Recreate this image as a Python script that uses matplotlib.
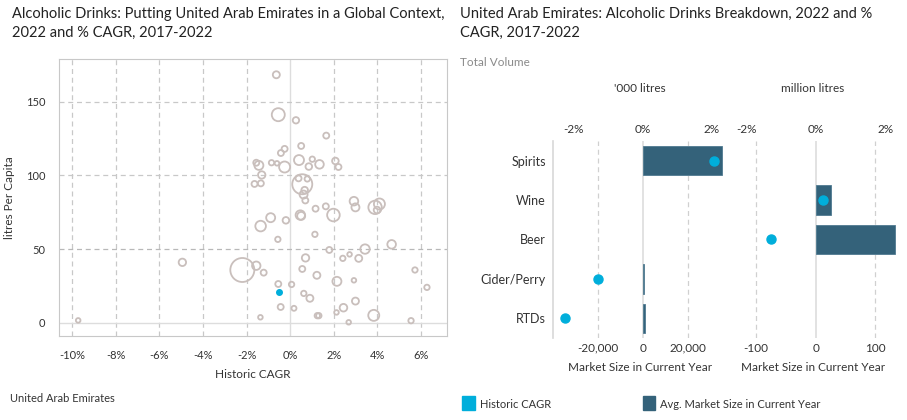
import matplotlib.pyplot as plt
from matplotlib.patches import Rectangle
from matplotlib.ticker import FuncFormatter

plt.rcParams['font.family'] = ['Lato', 'DejaVu Sans']

W, H = 907, 420

# --- global context scatter: historic CAGR (%), litres per capita, bubble radius (px)
cagr = [-0.64, -0.55, 0.26, 1.65, 0.50, -0.26, -0.43, -1.56, -1.44, -0.86,
        -0.61, -0.26, 0.40, 1.01, 0.85, 1.34, 2.07, 2.21, -1.31, -1.64,
        -1.35, 0.38, 0.78, 0.55, 0.66, 0.61, 0.69, 1.16, 1.63, 1.98,
        0.46, 0.50, -0.90, -1.36, -0.20, -0.57, 1.13, 2.92, 2.99, 3.89,
        4.09, 3.98, 4.65, 3.43, 1.79, 2.72, 2.41, 3.14, 0.70, 0.55,
        1.22, -2.20, -1.56, -1.22, 5.72, 6.27, -0.55, 0.06, 2.14, 2.92,
        0.62, 0.90, 2.99, 2.44, -0.44, 0.17, 2.12, 1.24, 1.31, 3.83,
        2.68, -1.37, 5.54, -9.73, -4.95]
per_capita = [168.3, 141.2, 137.4, 127, 120, 118, 115.2, 108.6, 106.8, 108.6,
              108.2, 105.7, 110.4, 111, 106, 107.5, 109.8, 105.7, 100.3, 94.2,
              94.6, 98, 97.6, 94, 90, 87, 83, 77.4, 79, 73.1,
              73.1, 72.5, 71.3, 65.6, 69.5, 56.6, 60, 82.5, 78.3, 78.3,
              80.6, 76.5, 53.2, 50, 49.4, 46.4, 43.7, 43.7, 44, 36.5,
              32.2, 35.8, 38.7, 34, 35.8, 24, 26.3, 26, 28.1, 28.8,
              19.9, 16.6, 14.7, 10.2, 10.7, 9.8, 7, 4.8, 4.8, 5,
              0.3, 3.7, 1.4, 1.6, 41]
bubble = [3.5, 6.5, 3.2, 3, 3, 3, 3, 3, 4.5, 2.7,
          2.3, 5.5, 5, 2.7, 3.3, 4.3, 3.3, 3, 3.7, 3,
          3, 3, 2.7, 10, 3.3, 4, 3, 3, 3, 6.3,
          4.7, 4, 4.5, 5.3, 3.3, 2.7, 2.7, 4.3, 4, 6.7,
          5.5, 3.3, 4.3, 4.7, 3, 2.3, 2.7, 3.5, 3.7, 3,
          3.5, 12, 4.2, 3, 2.7, 2.7, 3, 2.7, 4.5, 2.3,
          2.7, 3.5, 3.5, 3.8, 3, 2.5, 2.3, 2.7, 2.7, 5.5,
          2.3, 2.3, 2.7, 2.3, 3.7]
uae_cagr, uae_per_capita = -0.54, 20.8

# --- breakdown
categories = ['Spirits', 'Wine', 'Beer', 'Cider/Perry', 'RTDs']
hist_cagr = [2.05, 0.22, -1.30, -1.30, -2.26]
size_000 = [35100, None, None, 400, 900]      # '000 litres
size_mln = [None, 26, 132, None, None]        # million litres

grey_txt = '#333333'
grid_c = '#C8C8C8'
bar_c = '#34627A'
dot_c = '#00AEDB'
ring_c = '#C9BFBC'

fig = plt.figure(figsize=(W / 100, H / 100), dpi=100)


def box(l, t, r, b):
    return [l / W, 1 - b / H, (r - l) / W, (b - t) / H]


pct = FuncFormatter(lambda v, p: f'{v:.0f}%')

# ---------------- scatter ----------------
ax = fig.add_axes(box(59, 59, 447, 336))
ax.scatter(cagr, per_capita, s=[(2 * r * 0.72) ** 2 for r in bubble],
           facecolors='none', edgecolors=ring_c, linewidths=1.3, zorder=3)
ax.scatter([uae_cagr], [uae_per_capita], s=16, color=dot_c, zorder=4)
ax.set_xlim(-10.61, 7.19)
ax.set_ylim(-9.0, 179)
ax.set_xticks(range(-10, 7, 2))
ax.set_yticks([0, 50, 100, 150])
ax.xaxis.set_major_formatter(pct)
for v in range(-10, 7, 2):
    if v == 0:
        ax.axvline(v, color='#DDDDDD', lw=1, zorder=1)
    else:
        ax.axvline(v, color=grid_c, lw=0.9, ls=(0, (4, 3)), zorder=1)
for v in [0, 50, 100, 150]:
    if v == 0:
        ax.axhline(v, color='#DDDDDD', lw=1, zorder=1)
    else:
        ax.axhline(v, color='#B8B8B8' if v == 50 else grid_c, lw=0.9,
                   ls=(0, (4, 3)), zorder=1)
for s in ax.spines.values():
    s.set_color(grid_c)
ax.tick_params(length=0, labelsize=8, colors=grey_txt, pad=10)
ax.set_xlabel('Historic CAGR', fontsize=8.5, color=grey_txt, labelpad=6)
ax.set_ylabel('litres Per Capita', fontsize=8.5, color=grey_txt, labelpad=8)

fig.text(12 / W, 1 - 7 / H,
         'Alcoholic Drinks: Putting United Arab Emirates in a Global Context,\n2022 and % CAGR, 2017-2022',
         fontsize=10.5, color='#222222', va='top', ha='left', linespacing=1.45)

# ---------------- breakdown ----------------
panels = [
    (box(553, 141, 727, 338), size_000, (-39870, 37470), (-2.6, 2.44),
     [-20000, 0, 20000], lambda v, p: f'{v:,.0f}', "'000 litres", True),
    (box(727, 141, 899, 338), size_mln, (-148.6, 139.4), (-2.55, 2.39),
     [-100, 0, 100], lambda v, p: f'{v:.0f}', 'million litres', False),
]
ypos = list(range(len(categories)))
for rect, sizes, xl, cl, ticks, fmt, unit, first in panels:
    a = fig.add_axes(rect)
    for i, v in enumerate(sizes):
        if v is not None:
            a.barh(i, v, height=0.75, color=bar_c, edgecolor='#4F7A90',
                   lw=0.6, zorder=2)
    a.set_xlim(*xl)
    a.set_ylim(4.5, -0.5)
    a.set_xticks(ticks)
    a.xaxis.set_major_formatter(FuncFormatter(fmt))
    for t in ticks:
        if t == 0:
            a.axvline(t, color='#DDDDDD', lw=1.2, zorder=1)
        else:
            a.axvline(t, color='#D0D0D0', lw=0.9, ls=(0, (4, 3)), zorder=1)
    for s in a.spines.values():
        s.set_visible(False)
    if first:
        a.spines['left'].set_visible(True)
        a.spines['left'].set_color('#D8D8D8')
        a.spines['left'].set_linewidth(1.2)
        a.set_yticks(ypos)
        a.set_yticklabels(categories)
    else:
        a.set_yticks([])
    a.tick_params(length=0, labelsize=8.5, colors=grey_txt)
    a.tick_params(axis='y', pad=5, labelsize=9)
    a.set_xlabel('Market Size in Current Year', fontsize=8.5,
                 color=grey_txt, labelpad=6)

    t = a.twiny()
    t.set_xlim(*cl)
    t.set_xticks([-2, 0, 2])
    t.xaxis.set_major_formatter(pct)
    t.tick_params(length=0, labelsize=8.5, colors=grey_txt, pad=4)
    for s in t.spines.values():
        s.set_visible(False)
    for i, (c, v) in enumerate(zip(hist_cagr, sizes)):
        if v is not None:
            t.plot(c, i, 'o', color=dot_c, ms=6.5, zorder=5)
    t.set_ylim(4.5, -0.5)
    cx = rect[0] + rect[2] / 2
    fig.text(cx, 1 - 88 / H, unit, fontsize=8.5, color=grey_txt,
             ha='center', va='center')

fig.text(460 / W, 1 - 7 / H,
         'United Arab Emirates: Alcoholic Drinks Breakdown, 2022 and %\nCAGR, 2017-2022',
         fontsize=10.5, color='#222222', va='top', ha='left', linespacing=1.45)
fig.text(460 / W, 1 - 62 / H, 'Total Volume', fontsize=8.5, color='#8A8A8A',
         va='center', ha='left')

# ---------------- legend ----------------
fig.text(10 / W, 1 - 398 / H, 'United Arab Emirates', fontsize=8,
         color=grey_txt, va='center', ha='left')
fig.patches.append(Rectangle((462 / W, 1 - 410 / H), 13 / W, 14 / H,
                             transform=fig.transFigure, color=dot_c))
fig.text(480 / W, 1 - 404 / H, 'Historic CAGR', fontsize=8,
         color=grey_txt, va='center', ha='left')
fig.patches.append(Rectangle((643 / W, 1 - 410 / H), 12 / W, 14 / H,
                             transform=fig.transFigure, color=bar_c))
fig.text(660 / W, 1 - 404 / H, 'Avg. Market Size in Current Year',
         fontsize=8, color=grey_txt, va='center', ha='left')

fig.savefig('out.png', dpi=100, facecolor='white')
